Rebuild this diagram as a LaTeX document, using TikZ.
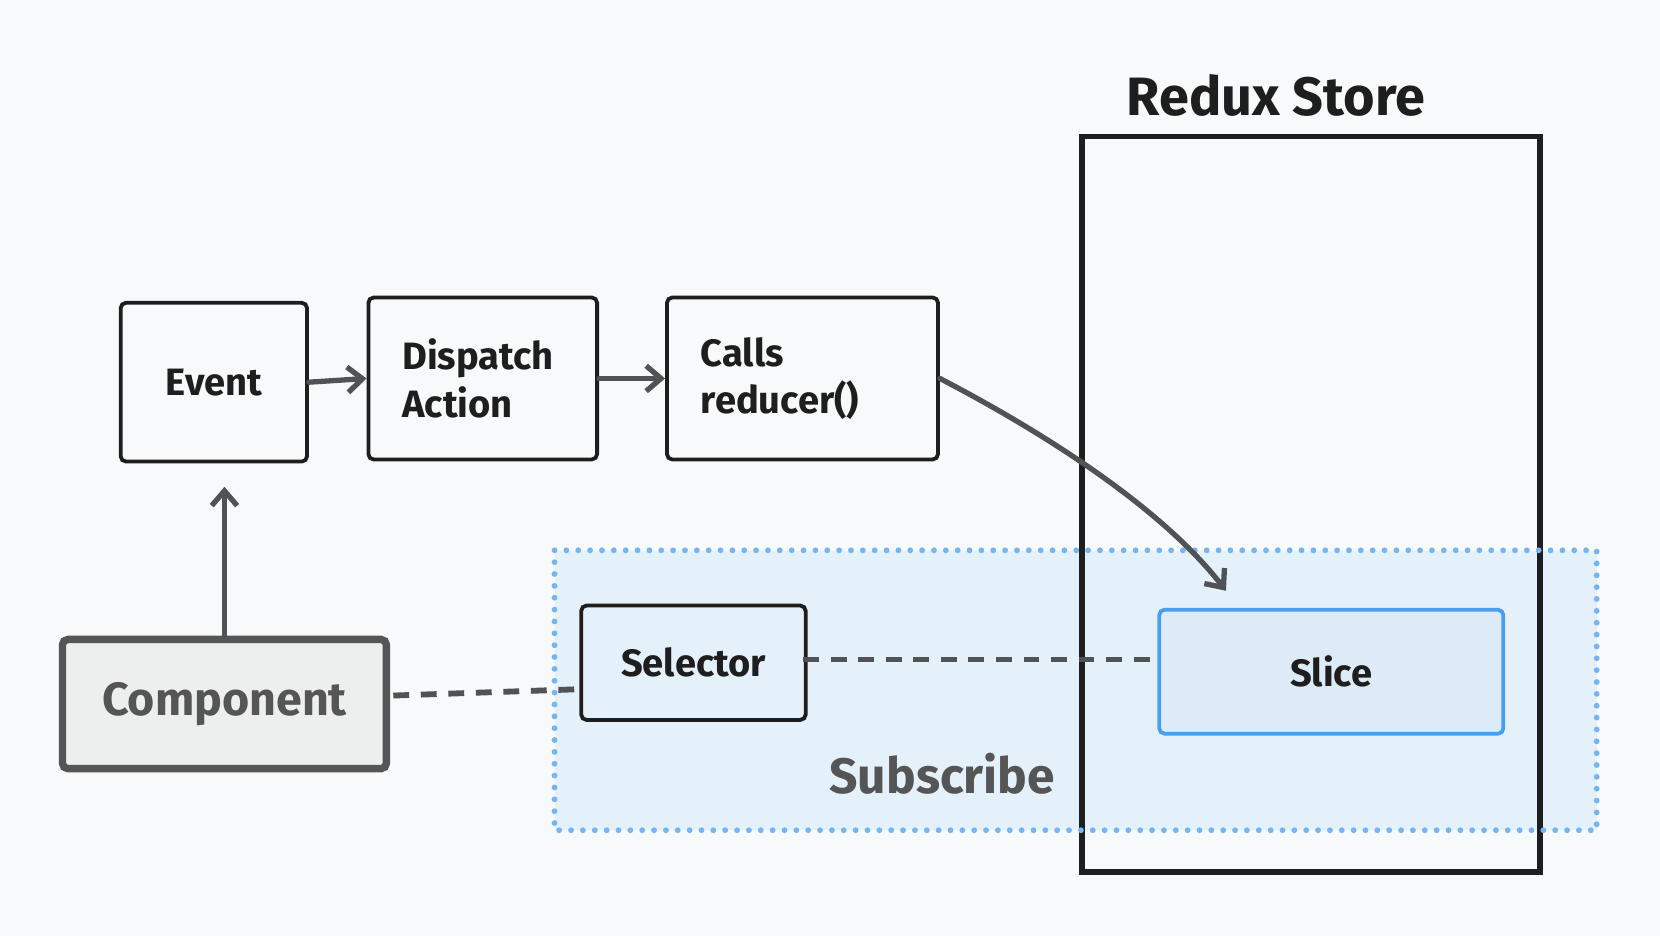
\documentclass[tikz,border=0pt]{standalone}
\usepackage{fontspec}
\setmainfont{Fira Sans}
\usetikzlibrary{arrows.meta,calc}
\definecolor{bg}{HTML}{F8F9FA}
\definecolor{ink}{HTML}{1E1E1E}
\definecolor{arrowgray}{HTML}{505355}
\definecolor{subfill}{HTML}{E4F0FA}
\definecolor{subdot}{HTML}{74B5F2}
\definecolor{slicefill}{HTML}{DDEBF8}
\definecolor{slicedraw}{HTML}{4A9EED}
\definecolor{compfill}{HTML}{EDEEEE}
\definecolor{compdraw}{HTML}{555555}
\tikzset{
  box/.style={draw=ink, line width=3.6pt, rounded corners=5pt, fill=bg, text=ink,
    font=\bfseries\fontsize{36}{45}\selectfont},
  leftbox/.style={box, align=left, inner xsep=32pt},
  flow/.style={draw=arrowgray, line width=5pt, line cap=round,
    -{Straight Barb[length=14pt,width=24pt,line width=5pt]}},
  link/.style={draw=arrowgray, line width=5.5pt, dash pattern=on 15pt off 11pt}
}
\begin{document}
\begin{tikzpicture}[x=1pt,y=-1pt]
\useasboundingbox[fill=bg] (0,0) rectangle (1568,884);
% subscribe region
\node[fill=subfill, minimum width=984pt, minimum height=264pt, inner sep=0pt] (sub) at (1016,652) {};
% redux store
\node[draw=ink, line width=5.5pt, minimum width=433pt, minimum height=695pt, inner sep=0pt] (store) at (1238.5,476.5) {};
\draw[subdot, line width=5.5pt, line cap=round, dash pattern=on 0pt off 11.2pt] (sub.north west) rectangle (sub.south east);
\node[text=ink, font=\bfseries\fontsize{51}{60}\selectfont] (storelbl) at (1205,90) {Redux Store};
% top row
\node[box, minimum width=176pt, minimum height=150pt, inner sep=0pt] (event) at (202,361) {Event};
\node[leftbox, text width=152pt, minimum height=153pt] (dispatch) at (456,357.5) {Dispatch\\Action};
\node[leftbox, text width=192pt, minimum height=153pt] (calls) at (758,357.5) {Calls\\reducer()};
% selector / slice / component
\node[box, fill=subfill, minimum width=212pt, minimum height=108pt, inner sep=0pt] (selector) at (655,626) {Selector};
\node[box, draw=slicedraw, fill=slicefill, minimum width=325pt, minimum height=117pt, inner sep=0pt] (slice) at (1257.5,634.5) {Slice};
\node[box, draw=compdraw, line width=7pt, fill=compfill, text=compdraw, minimum width=306pt, minimum height=122pt, inner sep=0pt, font=\bfseries\fontsize{44}{50}\selectfont] (comp) at (212,665) {Component};
\node[text=compdraw, font=\bfseries\fontsize{47}{56}\selectfont] (sublbl) at (890,731) {Subscribe};
% connectors
\coordinate (slicetip) at (1158,558);
\draw[flow] (event.east) -- (dispatch.west);
\draw[flow] (dispatch.east) -- (calls.west);
\draw[flow] (calls.east) .. controls (960,395) and (1090,470) .. (slicetip);
\draw[flow, shorten >=22pt] (comp.north) -- (comp.north |- event.south);
\draw[link] ($(comp.east)+(3,-8)$) -- ($(selector.west)+(0,25)$);
\draw[link] ($(selector.east)+(-4,-3)$) -- ($(slice.west)+(0,-11.5)$);
\end{tikzpicture}
\end{document}
